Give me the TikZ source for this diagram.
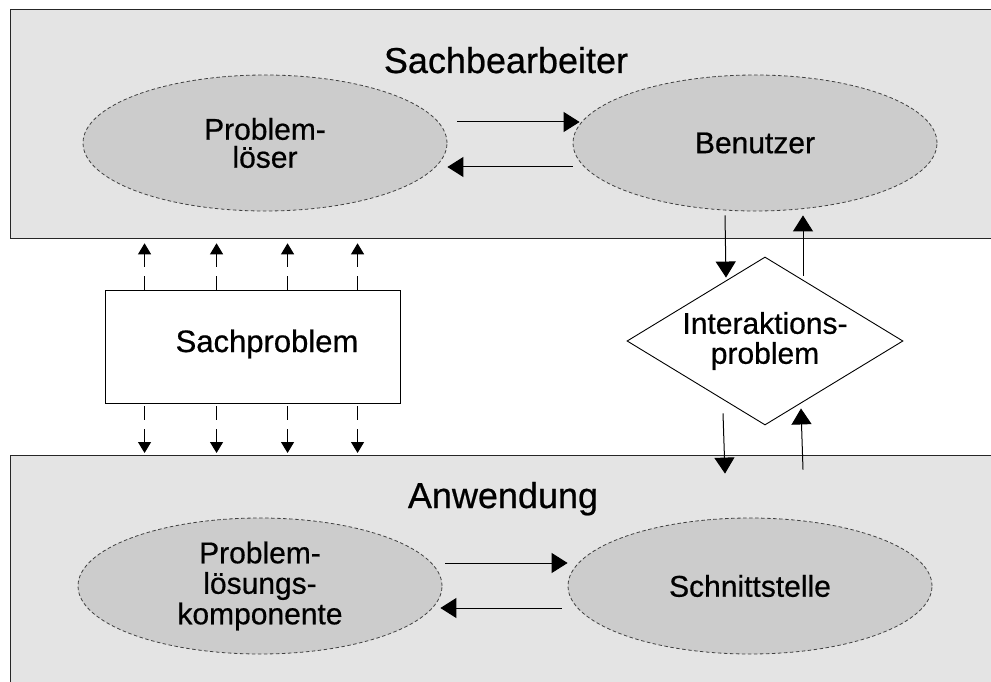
\documentclass[tikz,border=0pt]{standalone}
\usepackage{fontspec}
\setmainfont{Liberation Sans}[FakeBold=0.6]
\usetikzlibrary{shapes.geometric,arrows.meta,calc}
\definecolor{bandgray}{HTML}{E4E4E4}
\definecolor{roundgray}{HTML}{CCCCCC}
\begin{document}
\begin{tikzpicture}[x=1pt,y=-1pt,
  band/.style={draw=black!85,line width=1.3pt,fill=bandgray,anchor=north west,
    inner sep=0pt,minimum width=1000pt},
  bandtitle/.style={anchor=base,inner sep=0pt,font=\fontsize{36}{40}\selectfont},
  role/.style={ellipse,draw=black!75,line width=0.8pt,dash pattern=on 3.5pt off 2.5pt,
    fill=roundgray,minimum width=364pt,minimum height=136pt,inner sep=0pt,align=center},
  problembox/.style={draw,line width=0.9pt,fill=white,minimum width=295pt,
    minimum height=113pt,inner sep=0pt},
  problemdia/.style={diamond,aspect=1.64,draw,line width=0.9pt,fill=white,
    minimum width=276pt,minimum height=168pt,inner sep=0pt,align=center,
    font=\fontsize{30}{30}\selectfont},
  flow/.style={-{Triangle[length=16pt,width=20pt]},line width=1pt},
  link/.style={-{Triangle[length=11pt,width=13pt]},line width=1pt,
    dash pattern=on 14pt off 9pt}
]
\useasboundingbox (0,0) rectangle (991,682);
\clip (0,0) rectangle (991,682);

% the two layers
\node[band,minimum height=229pt] (tb) at (10,9) {};
\node[band,minimum height=260pt] (ab) at (10,455) {};
\node[bandtitle] (t1) at (506,73) {Sachbearbeiter};
\node[bandtitle] (t2) at (503,508) {Anwendung};

% roles inside the layers
\node[role,font=\fontsize{30}{28}\selectfont] (pl) at (265,143) {Problem-\\löser};
\node[role,font=\fontsize{30}{30}\selectfont] (bn) at (755,143) {Benutzer};
\node[role,font=\fontsize{30}{30.5}\selectfont] (plk) at (260,586) {Problem-\\lösungs-\\komponente};
\node[role,font=\fontsize{30}{30}\selectfont] (sn) at (750,586) {Schnittstelle};

% the two problems between the layers
\node[problembox] (sp) at (252.5,346.5) {};
\node[inner sep=0pt,font=\fontsize{31}{31}\selectfont] (spt) at (267,344) {Sachproblem};
\node[problemdia] (ip) at (765,341) {Interaktions-\\problem};

% horizontal flows
\draw[flow] ($(pl.east)+(10,-21)$) -- ($(bn.west)+(7,-21)$);
\draw[flow] ($(bn.west)+(0,24)$) -- ($(pl.east)+(0,24)$);
\draw[flow] ($(plk.east)+(3,-23)$) -- ($(sn.west)+(0,-23)$);
\draw[flow] ($(sn.west)+(-6,22)$) -- ($(plk.east)+(-2,22)$);

% flows through the interaction problem
\draw[flow] ($(bn.south)+(-30,4)$) -- ($(ip.north)+(-39,21)$);
\draw[flow] ($(ip.north)+(38,19)$) -- ($(bn.south)+(48,4)$);
\draw[flow] ($(ip.south)+(-42,-12)$) -- ($(sn.north)+(-25,-44)$);
\draw[flow] ($(sn.north)+(53,-48)$) -- ($(ip.south)+(36,-17)$);

% links of the subject problem to both layers
\foreach \dx in {40,112,183,253}{
  \draw[link] ($(sp.north west)+(\dx,0)$) -- ($(sp.north west |- tb.south)+(\dx,4)$);
  \draw[link] ($(sp.south west)+(\dx,3)$) -- ($(sp.south west |- ab.north)+(\dx,-2)$);
}
\end{tikzpicture}
\end{document}
